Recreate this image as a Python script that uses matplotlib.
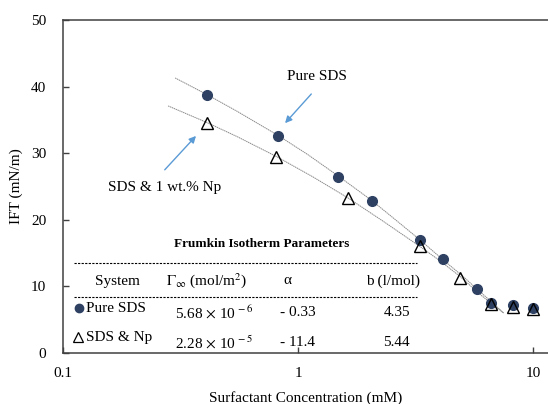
import matplotlib
matplotlib.use("Agg")
import matplotlib.pyplot as plt
from matplotlib.lines import Line2D

plt.rcParams['font.family'] = ['Liberation Serif', 'DejaVu Serif']
plt.rcParams['mathtext.fontset'] = 'stix'

# measured IFT data (mM, mN/m)
conc_sds = [0.41, 0.82, 1.48, 2.06, 3.30, 4.14, 5.78, 6.63, 8.22, 10.0]
ift_sds = [38.7, 32.6, 26.4, 22.8, 17.0, 14.1, 9.6, 7.5, 7.2, 6.8]

conc_np = [0.41, 0.81, 1.63, 3.30, 4.89, 6.63, 8.22, 10.0]
ift_np = [34.5, 29.4, 23.2, 16.0, 11.3, 7.4, 6.9, 6.6]

# Frumkin fit curves
fit_sds_x = [0.30, 0.41, 0.55, 0.82, 1.10, 1.48, 2.06, 2.60, 3.30, 4.14, 5.00, 5.78, 6.60, 7.50]
fit_sds_y = [41.3, 38.8, 36.3, 32.7, 29.8, 26.6, 22.9, 20.0, 17.0, 14.0, 11.6, 9.6, 7.8, 6.0]

fit_np_x = [0.28, 0.41, 0.55, 0.81, 1.15, 1.63, 2.30, 3.30, 4.00, 4.89, 6.00, 7.50]
fit_np_y = [37.1, 34.6, 32.5, 29.5, 26.5, 23.3, 19.8, 16.0, 13.9, 11.5, 8.7, 6.0]

# table contents
table_cols = ["System", r"$\Gamma_{\infty}$ (mol/m$^2$)", "α", "b (l/mol)"]
table_gamma = [r"5.68 $\times$ 10$^{\,-6}$", r"2.28 $\times$ 10$^{\,-5}$"]
table_alpha = ["- 0.33", "- 11.4"]
table_b = ["4.35", "5.44"]

navy = '#2E4163'
spine_col = '#404040'

fig = plt.figure(figsize=(5.48, 4.04), dpi=100)
W, H = 548, 404
ax = fig.add_axes([63 / W, 1 - 353 / H, 1 - 63 / W, (353 - 20) / H])

ax.plot(fit_sds_x, fit_sds_y, color='#8a8a8a', lw=0.7, ls=(0, (1.5, 0.6)))
ax.plot(fit_np_x, fit_np_y, color='#8a8a8a', lw=0.7, ls=(0, (1.5, 0.6)))
ax.plot(conc_sds, ift_sds, 'o', color=navy, ms=7, ls='none')
ax.plot(conc_np, ift_np, '^', mfc='none', mec='black', mew=1.0, ms=8.5, ls='none')

ax.set_xscale('log')
ax.set_xlim(0.1, 10 ** (485 / 235 - 1))
ax.set_ylim(0, 50)
ax.set_xticks([0.1, 1, 10])
ax.set_xticklabels(['0.1', '1', '10'])
ax.minorticks_off()
ax.set_yticks([0, 10, 20, 30, 40, 50])
ax.tick_params(direction='in', length=4, width=1, color=spine_col, labelsize=11)
ax.tick_params(axis='y', pad=12)
ax.tick_params(axis='x', pad=10)
for s in ['left', 'bottom', 'top']:
    ax.spines[s].set_color(spine_col)
    ax.spines[s].set_linewidth(1.1)
ax.spines['right'].set_visible(False)

ax.set_xlabel('Surfactant Concentration (mM)', fontsize=11, labelpad=8)
ax.set_ylabel('IFT (mN/m)', fontsize=11, labelpad=6)

# annotations with arrows
blue = '#5B9BD5'
ax.annotate('', xy=(0.865, 34.2), xytext=(1.16, 39.2),
            arrowprops=dict(arrowstyle='-|>', color=blue, lw=1.0, mutation_scale=10))
ax.text(1.2, 41.5, 'Pure SDS', fontsize=11, ha='center', va='center')
ax.annotate('', xy=(0.375, 32.9), xytext=(0.266, 27.2),
            arrowprops=dict(arrowstyle='-|>', color=blue, lw=1.0, mutation_scale=10))
ax.text(0.272, 24.8, 'SDS & 1 wt.% Np', fontsize=11, ha='center', va='center')

# parameter table, positioned in pixel units of the figure
def fx(px):
    return px / W

def fy(py):
    return 1 - py / H

fig.text(fx(262), fy(244), 'Frumkin Isotherm Parameters', fontsize=9.5,
         fontweight='bold', ha='center', va='center')
for py in (263, 297):
    fig.add_artist(Line2D([fx(74), fx(417)], [fy(py), fy(py)], transform=fig.transFigure,
                          color='black', lw=0.8, ls=(0, (2.0, 1.2))))

col_x = [117, 207, 287, 393]
for cx, label in zip(col_x, table_cols):
    fig.text(fx(cx), fy(281), label, fontsize=11, ha='center', va='center')

rows_y = [(309, 313), (338, 343)]
names = ['Pure SDS', 'SDS & Np']
for i, (ny, vy) in enumerate(rows_y):
    fig.text(fx(86), fy(ny), names[i], fontsize=11, ha='left', va='center')
    fig.text(fx(175), fy(vy), table_gamma[i], fontsize=11, ha='left', va='center')
    fig.text(fx(298), fy(vy), table_alpha[i], fontsize=11, ha='center', va='center')
    fig.text(fx(410), fy(vy), table_b[i], fontsize=11, ha='right', va='center')

fig.add_artist(Line2D([fx(79)], [fy(308)], transform=fig.transFigure, marker='o',
                      color=navy, ms=6, ls='none'))
fig.add_artist(Line2D([fx(78)], [fy(337)], transform=fig.transFigure, marker='^',
                      mfc='none', mec='black', mew=0.9, ms=6.5, ls='none'))

fig.savefig('out.png', dpi=100)
